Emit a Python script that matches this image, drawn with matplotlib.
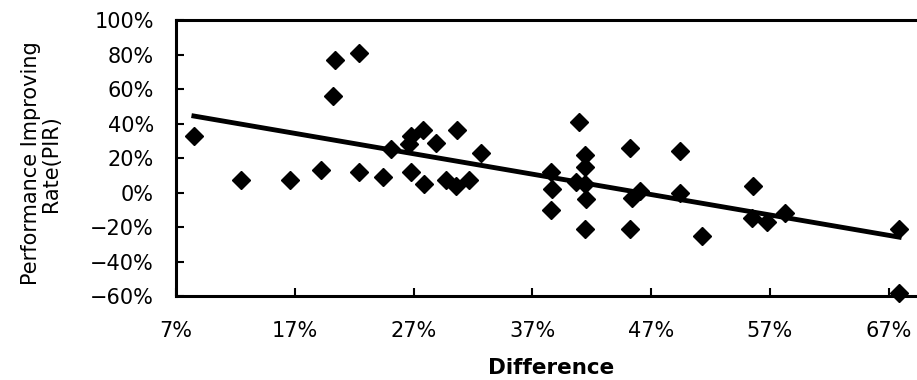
import numpy as np
import matplotlib.pyplot as plt
from matplotlib.ticker import PercentFormatter

# ==========================================
# DATA
# ==========================================
difference = [8.5, 12.5, 16.6, 19.2, 20.2, 20.4, 22.4, 22.4, 24.4, 25.1,
              26.6, 26.8, 27.8, 26.8, 27.9, 28.9, 29.7, 30.6, 30.7, 31.7,
              32.7, 38.6, 38.7, 38.6, 40.7, 40.9, 41.4, 41.4, 41.4, 41.5,
              41.4, 45.2, 45.4, 46.1, 45.2, 49.4, 49.4, 51.3, 55.6, 55.5,
              56.8, 58.3, 67.9, 67.9]
pir = [33, 7, 7, 13, 56, 77, 81, 12, 9, 25,
       28, 33, 36, 12, 5, 29, 7, 4, 36, 7,
       23, 12, 2, -10, 6, 41, 22, 15, 5, -4,
       -21, 26, -3, 1, -21, 24, 0, -25, 4, -15,
       -17, -12, -21, -58]

x_ticks = [7, 17, 27, 37, 47, 57, 67]
y_ticks = [-60, -40, -20, 0, 20, 40, 60, 80, 100]

plt.rcParams["font.family"] = ["DejaVu Sans"]

x = np.array(difference)
y = np.array(pir)

fig = plt.figure(figsize=(9.17, 3.8), dpi=100)
ax = fig.add_axes([0.192, 0.221, 0.808, 0.726])

ax.plot(x, y, linestyle="none", marker="D", markersize=9.5,
        color="black", clip_on=False, zorder=3)

# linear trend line across the data range
slope, icpt = np.polyfit(x, y, 1)
xs = np.array([x.min(), x.max()])
ax.plot(xs, slope * xs + icpt, color="black", linewidth=3.5, zorder=2)

ax.set_xlim(7, 69.4)
ax.set_ylim(-60, 100)
ax.set_xticks(x_ticks)
ax.set_yticks(y_ticks)
ax.xaxis.set_major_formatter(PercentFormatter(decimals=0))
ax.yaxis.set_major_formatter(PercentFormatter(decimals=0))

ax.tick_params(axis="both", direction="in", length=6, width=1.5,
               labelsize=15, color="black")
ax.tick_params(axis="x", pad=18)
ax.tick_params(axis="y", pad=16)

for side in ["left", "bottom", "top"]:
    ax.spines[side].set_linewidth(2.2)
ax.spines["right"].set_visible(False)

ax.set_xlabel("Difference", fontsize=15.5, fontweight="bold")
ax.xaxis.set_label_coords(0.506, -0.225)
ax.set_ylabel("Performance Improving\nRate(PIR)", fontsize=15,
              linespacing=1.0)
ax.yaxis.set_label_coords(-0.155, 0.48)

fig.savefig("out.png", dpi=100)
